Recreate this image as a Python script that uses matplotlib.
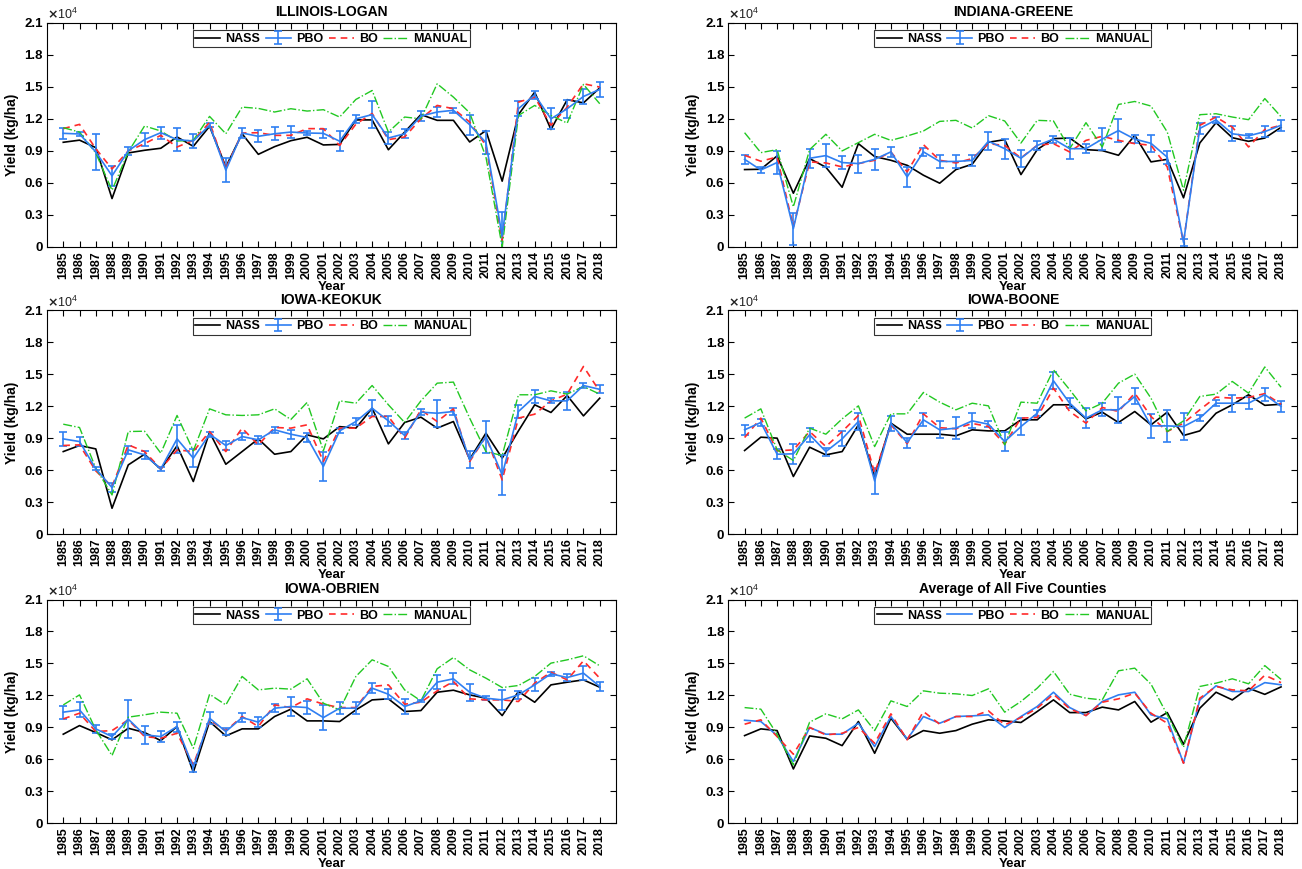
import numpy as np
import matplotlib
matplotlib.use("Agg")
import matplotlib.pyplot as plt

plt.rcParams['font.family'] = ['Liberation Sans', 'DejaVu Sans']
plt.rcParams['font.weight'] = 'bold'

years = np.arange(1985, 2019)

# yields in 1000 kg/ha
logan_nass = [9.80, 10.0, 9.3, 4.52, 8.8, 9.05, 9.24, 10.3, 9.42, 11.3, 7.49, 10.6, 8.67, 9.39, 9.95, 10.27, 9.55, 9.6,
              11.9, 11.9, 9.1, 10.76, 12.4, 11.86, 11.86, 9.83, 10.9, 6.15, 12.4, 14.5, 11.0, 13.8, 13.5, 14.9]
logan_pbo = [10.64, 10.58, 8.9, 6.65, 9.0, 10.05, 10.7, 10.05, 9.92, 11.4, 7.18, 10.67, 10.36, 10.6, 10.76, 10.67, 10.64, 9.9,
             12.0, 12.4, 10.2, 10.6, 12.26, 12.64, 12.8, 11.45, 9.77, 1.0, 12.95, 14.26, 12.0, 12.95, 14.1, 14.76]
logan_err = [0.53, 0.2, 1.7, 0.94, 0.37, 0.6, 0.56, 1.06, 0.64, 0.2, 1.1, 0.45, 0.55, 0.62, 0.55, 0.2, 0.43, 0.95,
             0.35, 1.3, 0.53, 0.44, 0.45, 0.45, 0.22, 0.95, 1.1, 2.3, 0.72, 0.37, 1.0, 0.86, 0.73, 0.67]
logan_bo = [11.08, 11.48, 9.2, 7.3, 8.99, 9.67, 10.45, 9.36, 9.98, 11.67, 7.33, 10.67, 10.7, 10.45, 10.45, 11.08, 11.08, 9.5,
            11.5, 12.5, 10.05, 10.3, 12.0, 13.26, 12.95, 11.7, 9.5, 0.6, 13.57, 14.04, 11.4, 13.1, 15.29, 14.98]
logan_manual = [11.17, 10.76, 8.8, 5.3, 8.9, 11.33, 10.86, 9.92, 9.98, 12.23, 10.6, 13.1, 12.98, 12.64, 12.95, 12.73, 12.86, 12.17,
                13.82, 14.66, 10.76, 12.17, 12.0, 15.29, 14.04, 12.57, 8.42, 0.0, 12.32, 13.26, 12.32, 11.6, 15.23, 13.42]

greene_nass = [7.24, 7.27, 8.52, 5.02, 8.27, 7.46, 5.58, 9.67, 8.46, 8.11, 7.64, 6.71, 5.96, 7.24, 7.74, 9.8,
               10.05, 6.77, 9.11, 10.14, 10.2, 9.11, 9.02, 8.58, 10.45, 7.96, 8.2, 4.59, 9.73, 11.64, 10.23, 9.89, 10.2, 11.2]
greene_pbo = [8.2, 7.2, 7.9, 1.7, 8.3, 8.55, 7.9, 7.8, 8.2, 8.9, 6.55, 8.9, 8.0, 8.0, 8.1, 9.9,
              9.2, 8.3, 9.5, 10.1, 9.2, 9.2, 10.1, 10.9, 10.1, 9.7, 8.4, 0.4, 11.1, 11.9, 10.6, 10.4, 10.8, 11.4]
greene_err = [0.45, 0.25, 1.1, 1.5, 0.9, 1.1, 0.6, 0.85, 1.0, 0.45, 0.9, 0.4, 0.6, 0.6, 0.5, 0.85,
              0.95, 0.8, 0.45, 0.33, 1.0, 0.4, 1.0, 1.05, 0.4, 0.8, 0.6, 0.3, 0.5, 0.3, 0.7, 0.2, 0.5, 0.5]
greene_bo = [8.58, 8.02, 8.42, 1.87, 7.96, 7.86, 7.49, 7.8, 8.11, 8.89, 7.02, 9.58, 8.11, 7.86, 8.27, 9.67,
             9.5, 8.33, 9.52, 9.67, 8.89, 9.98, 10.36, 9.98, 9.67, 9.52, 7.49, 0.4, 11.39, 12.17, 11.23, 9.36, 11.0, 11.4]
greene_manual = [10.7, 8.83, 9.11, 3.74, 9.11, 10.55, 8.99, 9.77, 10.55, 9.98, 10.39, 10.86, 11.76, 11.86, 11.14, 12.3,
                 11.8, 9.73, 11.86, 11.8, 9.2, 11.64, 9.36, 13.35, 13.63, 13.2, 10.76, 5.3, 12.39, 12.48, 12.17, 11.92, 13.9, 12.2]

keokuk_nass = [7.76, 8.33, 8.01, 2.44, 6.51, 7.51, 6.1, 8.3, 4.95, 9.58, 6.57, 7.76, 8.95, 7.51, 7.76, 9.33, 8.95, 10.1,
               9.96, 11.83, 8.48, 10.49, 10.99, 9.96, 10.58, 7.04, 9.49, 7.14, 9.7, 12.15, 11.43, 13.02, 11.11, 12.77]
keokuk_pbo = [8.95, 8.7, 6.14, 4.38, 7.92, 7.45, 6.14, 8.95, 7.14, 9.39, 8.33, 9.17, 8.86, 9.8, 9.39, 9.08, 6.36, 9.7,
              10.58, 11.83, 10.64, 9.27, 11.46, 11.36, 11.52, 6.98, 9.17, 5.57, 11.52, 12.93, 12.52, 12.52, 13.96, 13.6]
keokuk_err = [0.64, 0.4, 0.15, 0.4, 0.37, 0.4, 0.2, 1.3, 0.85, 0.25, 0.4, 0.3, 0.35, 0.27, 0.42, 0.4, 1.33, 0.24,
              0.3, 0.75, 0.47, 0.35, 0.3, 1.25, 0.3, 0.8, 1.5, 1.9, 0.6, 0.62, 0.24, 0.85, 0.25, 0.38]
keokuk_bo = [8.33, 8.39, 5.95, 4.48, 8.39, 7.76, 6.14, 7.92, 7.76, 9.64, 7.76, 9.96, 8.39, 10.02, 9.96, 10.27, 6.83, 9.96,
             9.96, 11.05, 11.05, 9.02, 11.68, 10.58, 11.77, 6.83, 9.17, 5.1, 10.9, 11.27, 12.52, 13.15, 15.75, 13.4]
keokuk_manual = [10.33, 10.02, 6.2, 3.69, 9.64, 9.67, 7.61, 11.15, 7.83, 11.77, 11.21, 11.15, 11.21, 11.77, 10.77, 12.37, 7.83, 12.52,
                 12.3, 13.96, 12.15, 10.49, 12.52, 14.18, 14.28, 10.9, 7.76, 7.39, 13.09, 13.09, 13.46, 13.15, 13.87, 13.15]

boone_nass = [7.86, 9.11, 9.02, 5.42, 8.17, 7.45, 7.76, 10.27, 5.42, 10.43, 9.39, 9.39, 9.39, 9.24, 9.8, 9.7,
              9.7, 10.74, 10.74, 12.15, 12.15, 10.83, 11.46, 10.49, 11.52, 10.27, 11.46, 9.27, 9.7, 11.36, 12.15, 13.09, 12.1, 12.2]
boone_pbo = [9.8, 10.49, 7.51, 7.55, 9.33, 7.76, 8.95, 10.58, 5.0, 10.4, 8.6, 10.74, 9.8, 9.96, 10.64, 10.33,
             8.7, 10.11, 11.36, 14.4, 12.3, 10.9, 11.68, 11.68, 12.93, 10.17, 10.17, 10.11, 10.9, 12.3, 12.3, 12.3, 13.1, 12.0]
boone_err = [0.5, 0.36, 0.47, 0.94, 0.66, 0.38, 0.7, 0.8, 1.2, 0.7, 0.47, 0.6, 0.8, 1.06, 0.7, 0.3,
             0.9, 0.83, 0.3, 0.8, 0.45, 0.94, 0.6, 1.2, 0.75, 1.1, 1.5, 1.24, 0.25, 0.3, 0.78, 0.58, 0.6, 0.5]
boone_bo = [9.08, 10.9, 7.83, 7.92, 9.64, 8.23, 9.64, 11.15, 5.73, 10.27, 8.5, 11.3, 10.0, 9.9, 10.4, 10.11,
            8.45, 10.9, 10.96, 13.71, 11.52, 10.43, 11.9, 11.52, 13.24, 11.05, 9.64, 10.43, 11.68, 12.87, 12.77, 12.84, 13.2, 12.2]
boone_manual = [10.9, 11.77, 7.92, 6.92, 9.96, 9.39, 10.83, 12.05, 8.23, 11.3, 11.3, 13.31, 12.4, 11.68, 12.3, 12.05,
                8.39, 12.4, 12.3, 15.43, 13.56, 11.58, 12.3, 14.18, 15.03, 12.77, 9.64, 10.64, 12.93, 13.15, 14.34, 13.24, 15.7, 13.8]

obrien_nass = [8.36, 9.17, 8.52, 7.83, 8.92, 8.52, 7.76, 9.08, 4.79, 9.55, 8.2, 8.86, 8.86, 10.02, 10.71, 9.61, 9.61,
               9.55, 10.64, 11.58, 11.68, 10.49, 10.58, 12.3, 12.49, 12.05, 11.74, 10.11, 12.37, 11.36, 12.99, 13.24, 13.46, 12.77]
obrien_pbo = [10.43, 10.64, 8.86, 8.14, 9.77, 8.3, 8.14, 9.08, 5.23, 9.86, 8.61, 9.92, 9.49, 10.8, 10.96, 10.86, 9.92,
              10.8, 10.8, 12.68, 12.11, 10.96, 11.49, 13.24, 13.56, 12.3, 11.74, 11.58, 12.05, 12.99, 14.03, 13.68, 14.09, 12.84]
obrien_err = [0.6, 0.7, 0.4, 0.25, 1.8, 0.86, 0.55, 0.47, 0.4, 0.55, 0.3, 0.45, 0.5, 0.37, 0.9, 0.58, 1.2,
              0.58, 0.55, 0.47, 0.47, 0.7, 0.1, 0.67, 0.5, 0.78, 0.2, 0.94, 0.35, 0.6, 0.2, 0.35, 0.67, 0.4]
obrien_bo = [9.8, 10.33, 8.61, 8.7, 9.71, 8.14, 7.98, 8.45, 5.48, 9.71, 8.67, 10.02, 9.08, 11.11, 10.86, 11.68, 11.18,
             10.86, 10.86, 12.84, 12.99, 11.18, 11.36, 12.43, 13.31, 11.68, 11.58, 11.58, 11.43, 13.15, 14.18, 13.46, 15.25, 13.62]
obrien_manual = [11.11, 12.05, 8.77, 6.36, 9.96, 10.18, 10.43, 10.33, 7.04, 12.11, 11.11, 13.78, 12.52, 12.68, 12.59, 13.56, 11.27,
                 10.64, 13.78, 15.34, 14.72, 12.52, 11.49, 14.5, 15.56, 14.4, 13.62, 12.74, 12.93, 13.78, 15.03, 15.34, 15.72, 14.78]

avg_nass = [8.23, 8.86, 8.7, 5.1, 8.2, 7.98, 7.29, 9.55, 6.57, 9.86, 7.89, 8.7, 8.45, 8.7, 9.3, 9.71,
            9.61, 9.46, 10.49, 11.58, 10.39, 10.39, 10.9, 10.64, 11.43, 9.49, 10.39, 7.42, 10.8, 12.3, 11.58, 12.68, 12.1, 12.8]
avg_pbo = [9.67, 9.55, 8.23, 5.79, 8.99, 8.36, 8.36, 9.39, 7.2, 10.02, 7.89, 10.02, 9.39, 10.02, 10.08, 10.18,
           8.99, 10.02, 10.96, 12.3, 10.86, 10.11, 11.43, 12.05, 12.3, 10.18, 9.8, 5.64, 11.58, 12.9, 12.37, 12.37, 13.2, 13.0]
avg_bo = [9.3, 9.71, 8.14, 6.48, 8.99, 8.3, 8.45, 8.99, 7.51, 10.27, 7.83, 10.49, 9.3, 10.02, 10.02, 10.55,
          9.24, 9.92, 10.8, 12.11, 10.74, 10.11, 11.36, 11.68, 12.21, 10.33, 9.39, 5.64, 11.74, 12.84, 12.52, 12.43, 13.9, 13.2]
avg_manual = [10.86, 10.71, 8.36, 5.48, 9.49, 10.27, 9.8, 10.64, 8.7, 11.49, 10.96, 12.43, 12.21, 12.15, 11.99, 12.62,
              10.43, 11.43, 12.68, 14.25, 12.11, 11.74, 11.58, 14.31, 14.56, 13.06, 10.18, 7.14, 12.84, 13.15, 13.56, 13.09, 14.8, 13.5]

panels = [
    ("ILLINOIS-LOGAN", logan_nass, logan_pbo, logan_err, logan_bo, logan_manual),
    ("INDIANA-GREENE", greene_nass, greene_pbo, greene_err, greene_bo, greene_manual),
    ("IOWA-KEOKUK", keokuk_nass, keokuk_pbo, keokuk_err, keokuk_bo, keokuk_manual),
    ("IOWA-BOONE", boone_nass, boone_pbo, boone_err, boone_bo, boone_manual),
    ("IOWA-OBRIEN", obrien_nass, obrien_pbo, obrien_err, obrien_bo, obrien_manual),
    ("Average of All Five Counties", avg_nass, avg_pbo, None, avg_bo, avg_manual),
]

# axes boxes [left, bottom, width, height] in figure fractions
col_x = [0.0361, 0.5594]
row_y = [0.7161, 0.3852, 0.0526]
ax_w, ax_h = 0.437, 0.2575

blue = '#2f7ff2'
fig = plt.figure(figsize=(13.02, 8.69), dpi=100)

for k, (title, nass, pbo, err, bo, manual) in enumerate(panels):
    ax = fig.add_axes([col_x[k % 2], row_y[k // 2], ax_w, ax_h])
    h_nass, = ax.plot(years, np.array(nass) * 1000, '-', color='black', lw=1.2, label='NASS')
    if err is not None:
        h_pbo = ax.errorbar(years, np.array(pbo) * 1000, yerr=np.array(err) * 1000, color=blue, lw=1.2,
                            elinewidth=1.2, capsize=3, capthick=1.2, label='PBO')
    else:
        h_pbo, = ax.plot(years, np.array(pbo) * 1000, '-', color=blue, lw=1.2, label='PBO')
    h_bo, = ax.plot(years, np.array(bo) * 1000, '--', color='#ff2a2a', lw=1.2, dashes=(4, 3), label='BO')
    h_man, = ax.plot(years, np.array(manual) * 1000, '-.', color='#22c822', lw=1.0, label='MANUAL')

    ax.set_xlim(1984, 2019)
    ax.set_ylim(0, 21000)
    ax.set_xticks(years)
    ax.set_xticklabels([str(y) for y in years], rotation=90, fontsize=9, fontweight='bold')
    yt = np.arange(0, 21001, 3000)
    ax.set_yticks(yt)
    ax.set_yticklabels(['0'] + ['%.1f' % (v / 1e4) for v in yt[1:]], fontsize=9.5, fontweight='bold')
    ax.tick_params(direction='in', top=True, right=True, length=4, width=0.8, pad=3)
    for s in ax.spines.values():
        s.set_linewidth(0.8)
    ax.text(0, 1.004, r'$\times\mathregular{10^{4}}$', transform=ax.transAxes, ha='left', va='bottom',
            fontsize=9, fontweight='normal', color='#222222')
    ax.set_title(title, fontsize=10, fontweight='bold', pad=5)
    ax.set_xlabel('Year', fontsize=9.5, fontweight='bold', labelpad=1.5)
    ax.set_ylabel('Yield (kg/ha)', fontsize=10, fontweight='bold', labelpad=4)
    leg = ax.legend([h_nass, h_pbo, h_bo, h_man], ['NASS', 'PBO', 'BO', 'MANUAL'],
                    loc='upper center', ncol=4, fontsize=9, frameon=True, fancybox=False,
                    edgecolor='black', borderpad=0.2, handlelength=2.0, handletextpad=0.4,
                    columnspacing=0.45, borderaxespad=0.6)
    leg.get_frame().set_linewidth(0.8)
    for t in leg.get_texts():
        t.set_fontweight('bold')

fig.savefig('out.png', dpi=100)
